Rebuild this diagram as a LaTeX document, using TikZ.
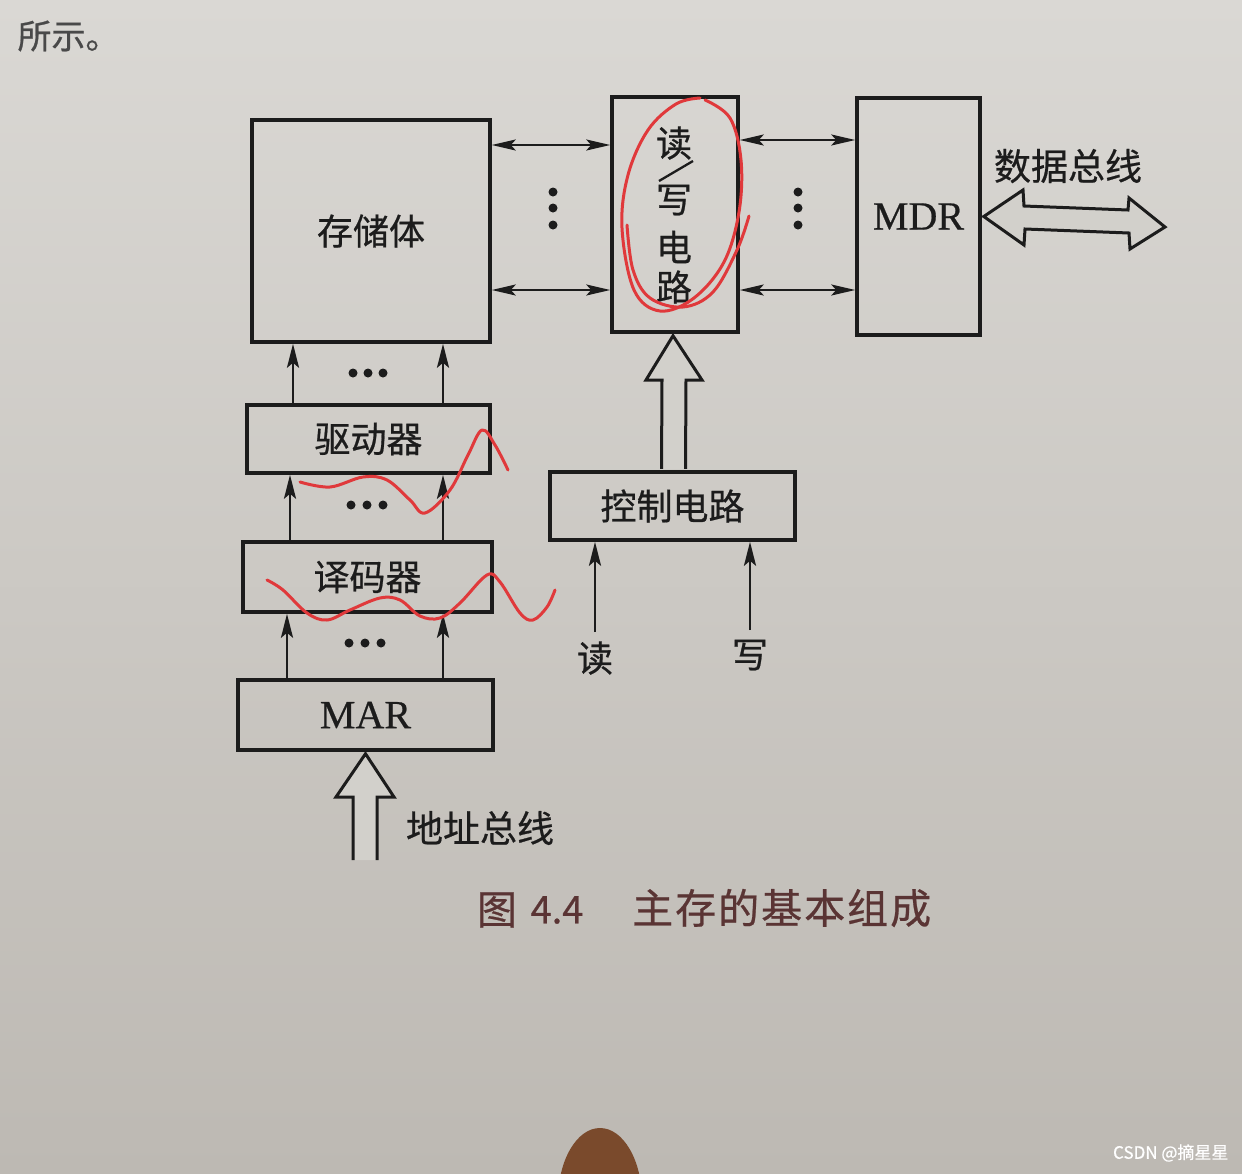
\documentclass[tikz,border=0pt]{standalone}
\usepackage{fontspec}
\setmainfont{Liberation Serif}
\newfontfamily\cjk[FakeBold=0.6]{Noto Sans CJK SC}
\newfontfamily\latbold[FakeBold=0.5]{Liberation Serif}
\usetikzlibrary{arrows.meta,calc}
\definecolor{paperA}{HTML}{DAD8D4}
\definecolor{paperB}{HTML}{BDB9B3}
\definecolor{paper}{HTML}{D2D0CB}
\definecolor{ink}{HTML}{1C1C1C}
\definecolor{redpen}{HTML}{E0393B}
\definecolor{capcol}{HTML}{5A3434}
\definecolor{finger}{HTML}{7A4A2C}
\begin{document}
\begin{tikzpicture}[x=1pt,y=-1pt,
  box/.style={draw=ink,line width=3.5pt,inner sep=0pt,text=ink},
  cjklbl/.style={text=ink,font=\cjk\fontsize{36}{40}\selectfont},
  latlbl/.style={text=ink,font=\latbold\fontsize{40}{42}\selectfont},
  wire/.style={draw=ink,line width=2.8pt,-{Stealth[length=24pt,width=12pt,inset=5pt]}},
  biwire/.style={draw=ink,line width=2.3pt,{Stealth[length=24pt,width=11pt,inset=5pt]}-{Stealth[length=24pt,width=11pt,inset=5pt]}},
  hollow/.style={draw=ink,line width=3pt,line join=miter,fill=paper},
  bigdot/.style={fill=ink,circle,inner sep=0pt,minimum size=9pt},
  pen/.style={draw=redpen,line width=3pt,line cap=round,line join=round}]
\shade[top color=paperA,bottom color=paperB] (0,0) rectangle (1242,1173);
\useasboundingbox (0,0) rectangle (1242,1173);

% stray text of the page
\node[text=ink!80,font=\cjk\fontsize{34}{36}\selectfont,anchor=west] (pagetxt) at (14,36) {所示。};

% boxes
\node[box,cjklbl,minimum width=238pt,minimum height=222pt] (mem) at (371,231) {存储体};
\node[box,minimum width=126pt,minimum height=235pt] (rw) at (675,214.5) {};
\node[cjklbl] (rw1) at (674,143) {读};
\node[cjklbl] (rw2) at (674,200) {写};
\node[cjklbl] (rw3) at (674,247) {电};
\node[cjklbl] (rw4) at (674,287) {路};
\draw[ink,line width=2.3pt] (659,181) -- (693,161);
\node[box,latlbl,minimum width=123pt,minimum height=237pt] (mdr) at (918.5,216.5) {MDR};

\node[box,cjklbl,minimum width=243pt,minimum height=68pt] (drv) at (368.5,439) {驱动器};
\node[box,cjklbl,minimum width=249pt,minimum height=70pt] (dec) at (367.5,577) {译码器};
\node[box,latlbl,minimum width=255pt,minimum height=70pt] (mar) at (365.5,715) {MAR};
\node[box,cjklbl,minimum width=245pt,minimum height=68pt] (ctrl) at (672.5,506) {控制电路};

% helper coordinates
\coordinate (yA) at (0,145);
\coordinate (yB) at (0,290);
\coordinate (yC) at (0,140);
\coordinate (xa1) at (293,0);
\coordinate (xa2) at (443,0);
\coordinate (xb1) at (290,0);
\coordinate (xc1) at (287,0);

% bidirectional data lines
\draw[biwire] (mem.east |- yA) -- (rw.west |- yA);
\draw[biwire] (mem.east |- yB) -- (rw.west |- yB);
\draw[biwire] (rw.east |- yC) -- (mdr.west |- yC);
\draw[biwire] (rw.east |- yB) -- (mdr.west |- yB);
\node[bigdot] (vd1) at (553,192) {};
\node[bigdot] (vd2) at (553,208) {};
\node[bigdot] (vd3) at (553,225) {};
\node[bigdot] (vd4) at (798,192) {};
\node[bigdot] (vd5) at (798,208) {};
\node[bigdot] (vd6) at (798,225) {};

% vertical address lines
\draw[wire] (drv.north -| xa1) -- (mem.south -| xa1);
\draw[wire] (drv.north -| xa2) -- (mem.south -| xa2);
\draw[wire] (dec.north -| xb1) -- (drv.south -| xb1);
\draw[wire] (dec.north -| xa2) -- (drv.south -| xa2);
\draw[wire] (mar.north -| xc1) -- (dec.south -| xc1);
\draw[wire] (mar.north -| xa2) -- (dec.south -| xa2);
\node[bigdot] (hd1) at (353,373) {};
\node[bigdot] (hd2) at (368,373) {};
\node[bigdot] (hd3) at (383,373) {};
\node[bigdot] (hd4) at (351,505) {};
\node[bigdot] (hd5) at (367,505) {};
\node[bigdot] (hd6) at (383,505) {};
\node[bigdot] (hd7) at (349,643) {};
\node[bigdot] (hd8) at (365,643) {};
\node[bigdot] (hd9) at (381,643) {};

% address bus (hollow arrow into MAR)
\draw[hollow] (353,860) -- (353,797) -- (336,797) -- ($(mar.south)+(0,2)$) -- (394,797) -- (377,797) -- (377,860);
\node[cjklbl,font=\cjk\fontsize{37}{40}\selectfont] (abus) at (480,828) {地址总线};

% control -> read/write (hollow arrow)
\draw[hollow] ($(ctrl.north)+(-11,-1.5)$) -- (662,380) -- (646,380) -- ($(rw.south)+(-2,2)$) -- (702,380) -- (686,380) -- ($(ctrl.north)+(13,-1.5)$);

% read / write inputs
\node[cjklbl] (rd) at (595,658) {读};
\node[cjklbl] (wr) at (750,655) {写};
\coordinate (rdin) at (595,632);
\coordinate (wrin) at (750,630);
\draw[wire] (rdin) -- (ctrl.south -| rdin);
\draw[wire] (wrin) -- (ctrl.south -| wrin);

% data bus (hollow double arrow)
\draw[hollow] ($(mdr.east)+(2,0)$) -- (1023,190) -- (1024,206) -- (1128,210) -- (1129,198) -- (1165,227) -- (1130,249) -- (1129,233) -- (1025,229) -- (1024,245) -- cycle;
\node[cjklbl,font=\cjk\fontsize{37}{40}\selectfont] (dbus) at (1068,166) {数据总线};

% caption
\node[text=capcol,font=\cjk\fontsize{40}{44}\selectfont] (cap1) at (497,910) {图};
\node[text=capcol,font=\cjk\fontsize{38}{44}\selectfont] (cap2) at (557,910) {4.4};
\node[text=capcol,font=\cjk\fontsize{41}{44}\selectfont,anchor=west,inner sep=0pt] (cap3) at (632,908) {主\kern2pt 存\kern2pt 的\kern2pt 基\kern2pt 本\kern2pt 组\kern2pt 成};

% red pen annotations
\draw[pen] plot[smooth,tension=0.6] coordinates {(705,100) (730,118) (741,160) (739,212) (724,262) (694,298) (660,311) (634,290) (622,228) (628,175) (648,130) (676,104) (700,98)};
\draw[pen] plot[smooth,tension=0.6] coordinates {(627,225) (633,270) (650,298) (683,307) (713,292) (737,250) (749,216)};
\draw[pen] plot[smooth,tension=0.6] coordinates {(300,482) (330,487) (363,477) (387,480) (410,500) (425,513) (450,490) (468,455) (482,430) (495,445) (508,470)};
\draw[pen] plot[smooth,tension=0.6] coordinates {(267,580) (283,590) (307,613) (327,620) (350,610) (380,598) (400,600) (420,616) (440,618) (460,603) (487,575) (500,582) (520,613) (533,620) (547,607) (555,590)};

% finger at the bottom edge and watermark
\fill[finger] (600,1200) ellipse [x radius=42pt,y radius=72pt];
\node[text=white,font=\cjk\fontsize{17}{20}\selectfont,anchor=east] (wm) at (1232,1153) {CSDN @摘星星};
\end{tikzpicture}
\end{document}
